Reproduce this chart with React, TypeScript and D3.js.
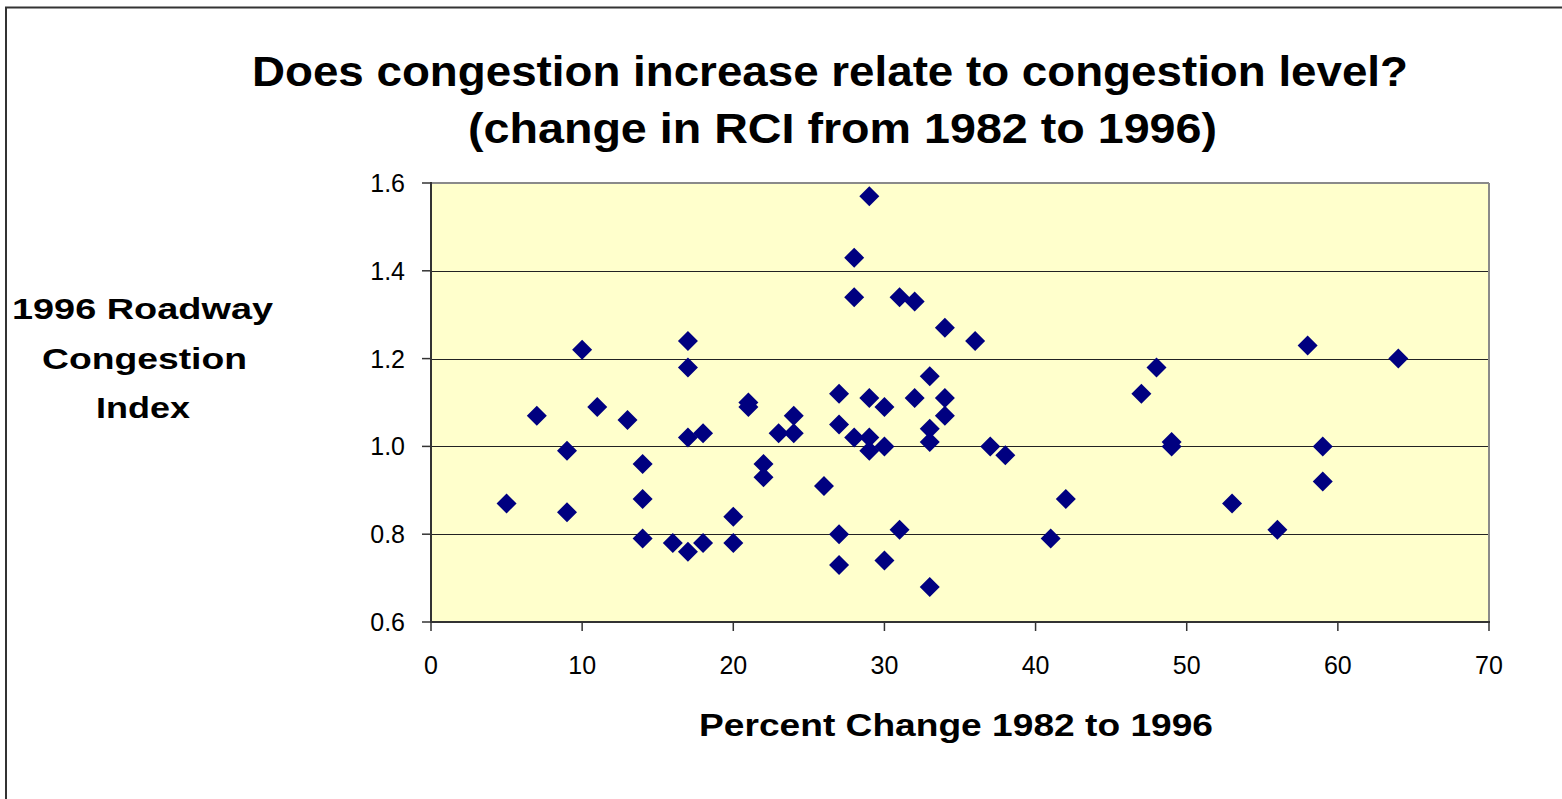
import React from "react";
import * as d3 from "d3";

const pctChange: number[] = [
  5, 7, 9, 9, 10, 11, 13, 14, 14, 14, 16, 17, 17, 17, 17, 18, 18, 20, 20, 21, 21, 22, 22, 23, 24, 24,
  26, 27, 27, 27, 27, 28, 28, 28, 29, 29, 29, 29, 30, 30, 30, 31, 31, 32, 32, 33, 33, 33, 33, 34, 34, 34,
  36, 37, 38, 41, 42, 47, 48, 49, 49, 53, 56, 58, 59, 59, 64,
];
const rci1996: number[] = [
  0.87, 1.07, 0.99, 0.85, 1.22, 1.09, 1.06, 0.96, 0.88, 0.79, 0.78, 0.76, 1.02, 1.18, 1.24, 1.03, 0.78, 0.84, 0.78, 1.1, 1.09, 0.96, 0.93, 1.03, 1.07, 1.03,
  0.91, 1.12, 1.05, 0.8, 0.73, 1.43, 1.34, 1.02, 1.57, 1.11, 1.02, 0.99, 1.09, 1.0, 0.74, 1.34, 0.81, 1.33, 1.11, 1.16, 1.04, 1.01, 0.68, 1.27, 1.11, 1.07,
  1.24, 1.0, 0.98, 0.79, 0.88, 1.12, 1.18, 1.01, 1.0, 0.87, 0.81, 1.23, 1.0, 0.92, 1.2,
];
const xTicks: number[] = [0, 10, 20, 30, 40, 50, 60, 70];
const yTicks: number[] = [0.6, 0.8, 1.0, 1.2, 1.4, 1.6];
const titleLines: string[] = ["Does congestion increase relate to congestion level?", "(change in RCI from 1982 to 1996)"];
const yLabelLines: string[] = ["1996 Roadway", "Congestion", "Index"];
const xLabel = "Percent Change 1982 to 1996";

export default function App() {
  const W = 1562;
  const H = 799;
  const left = 431;
  const right = 1489;
  const top = 183;
  const bottom = 622;
  const x = d3.scaleLinear().domain([0, 70]).range([left, right]);
  const y = d3.scaleLinear().domain([0.6, 1.6]).range([bottom, top]);
  const diamond = d3.symbol().type(d3.symbolSquare).size(200)() as string;
  const font = "Arial, 'Liberation Sans', Helvetica, sans-serif";

  const titleLayout = [
    { x: 252, len: 1156, base: 86 },
    { x: 468, len: 749, base: 143 },
  ];
  const yLabLayout = [
    { x: 12, len: 261, base: 319 },
    { x: 42, len: 205, base: 369 },
    { x: 96, len: 94, base: 418 },
  ];

  return (
    <svg
      width={W}
      height={H}
      style={{ position: "absolute", left: 0, top: 0, background: "#fff" }}
      fontFamily={font}
    >
      <rect x={6} y={7.5} width={W + 20} height={H + 20} fill="#fff" stroke="#333" strokeWidth={2} />
      <rect x={left} y={top} width={right - left} height={bottom - top} fill="#FFFFCC" />
      {yTicks
        .filter((t) => t > 0.6 && t < 1.6)
        .map((t) => (
          <line key={"g" + t} x1={left} x2={right} y1={Math.round(y(t)) + 0.5} y2={Math.round(y(t)) + 0.5} stroke="#222" strokeWidth={1} />
        ))}
      <line x1={left} x2={right} y1={top} y2={top} stroke="#8a8a8a" strokeWidth={2} />
      <line x1={right} x2={right} y1={top} y2={bottom} stroke="#8a8a8a" strokeWidth={2} />
      <line x1={left} x2={left} y1={top - 1} y2={bottom + 1} stroke="#333" strokeWidth={2} />
      <line x1={left} x2={right + 1} y1={bottom} y2={bottom} stroke="#333" strokeWidth={2} />
      {yTicks.map((t) => (
        <g key={"yt" + t}>
          <line x1={left - 9} x2={left} y1={y(t)} y2={y(t)} stroke="#333" strokeWidth={1.5} />
          <text x={405} y={y(t)} dy="0.36em" textAnchor="end" fontSize={25} fill="#000">
            {t.toFixed(1)}
          </text>
        </g>
      ))}
      {xTicks.map((t) => (
        <g key={"xt" + t}>
          <line x1={x(t)} x2={x(t)} y1={bottom} y2={bottom + 9} stroke="#333" strokeWidth={1.5} />
          <text x={x(t)} y={674} textAnchor="middle" fontSize={25} fill="#000">
            {t}
          </text>
        </g>
      ))}
      {pctChange.map((v, i) => (
        <path
          key={"p" + i}
          d={diamond}
          transform={`translate(${x(v)},${y(rci1996[i])}) rotate(45)`}
          fill="#000080"
        />
      ))}
      {titleLines.map((s, i) => (
        <text
          key={"t" + i}
          x={titleLayout[i].x}
          y={titleLayout[i].base}
          fontSize={43}
          fontWeight="bold"
          textLength={titleLayout[i].len}
          lengthAdjust="spacingAndGlyphs"
          fill="#000"
        >
          {s}
        </text>
      ))}
      {yLabelLines.map((s, i) => (
        <text
          key={"yl" + i}
          x={yLabLayout[i].x}
          y={yLabLayout[i].base}
          fontSize={30}
          fontWeight="bold"
          textLength={yLabLayout[i].len}
          lengthAdjust="spacingAndGlyphs"
          fill="#000"
        >
          {s}
        </text>
      ))}
      <text x={699} y={736} fontSize={32} fontWeight="bold" textLength={514} lengthAdjust="spacingAndGlyphs" fill="#000">
        {xLabel}
      </text>
    </svg>
  );
}
